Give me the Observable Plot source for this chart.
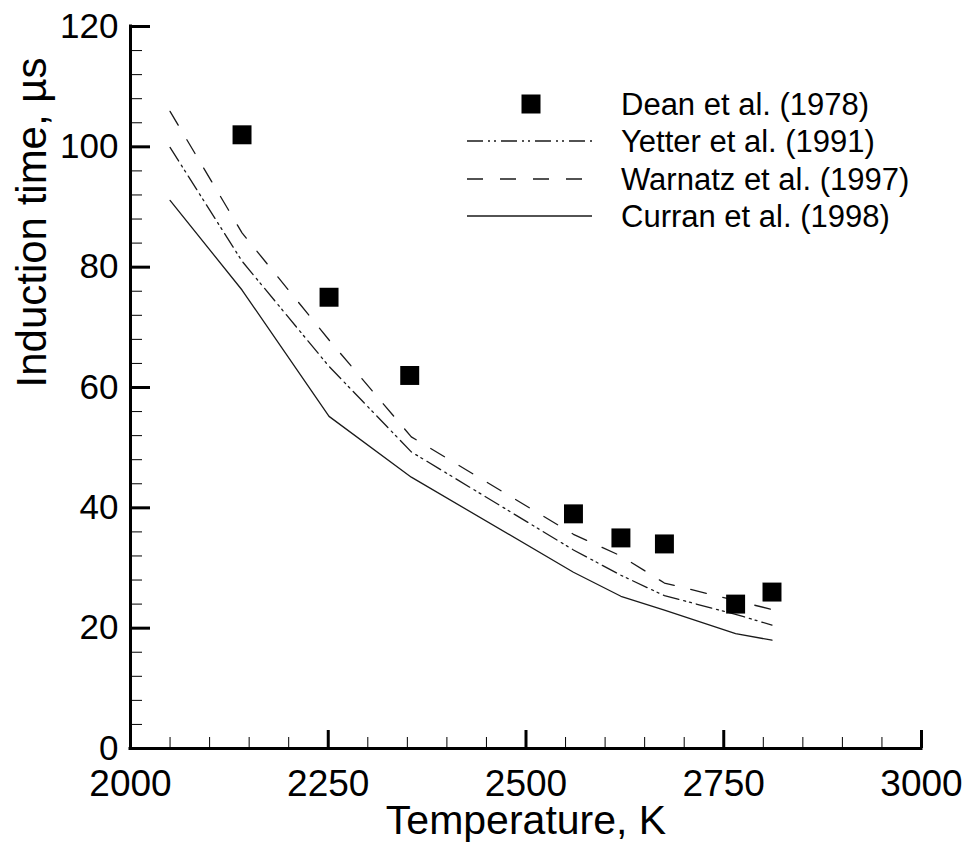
<!DOCTYPE html>
<html><head><meta charset="utf-8">
<script src="https://cdn.jsdelivr.net/npm/d3@7"></script>
<script src="https://cdn.jsdelivr.net/npm/@observablehq/plot@0.6"></script>
<style>html,body{margin:0;padding:0;background:#fff} svg{display:block}</style>
</head><body><div id="chart"></div>
<script>
// Experimental data (Dean et al. 1978)
const deanT   = [2141, 2251, 2353, 2560, 2620, 2675, 2765, 2811];
const deanTau = [102, 75, 62, 39, 35, 34, 24, 26];
// Model temperatures and predictions
const modelT  = [2050, 2141, 2251, 2355, 2560, 2620, 2675, 2765, 2811];
const yetter  = [99.9, 81.0, 63.5, 49.3, 33.0, 28.8, 25.4, 22.3, 20.5];
const warnatz = [105.9, 85.7, 67.9, 51.8, 35.6, 32.0, 27.5, 24.6, 23.1];
const curran  = [91.1, 76.2, 55.2, 45.1, 29.3, 25.3, 23.0, 19.1, 18.0];
// Ticks
const xMajor = [2000, 2250, 2500, 2750, 3000];
const yMajor = [0, 20, 40, 60, 80, 100, 120];
const xMinor = d3.range(2000, 3001, 50);
const yMinor = d3.range(0, 121, 4);
const seriesNames = ["Dean et al. (1978)", "Yetter et al. (1991)", "Warnatz et al. (1997)", "Curran et al. (1998)"];
const xTitle = "Temperature, K";
const yTitle = "Induction time, µs";

const FONT = "'Liberation Sans', Arial, Helvetica, sans-serif";
const LINE = "#1a1a1a";
const dashYetter = "16,5,2,4,2,5";
const dashWarnatz = "16,17";

const dean = deanT.map((t, i) => ({t, v: deanTau[i]}));
const mk = vals => modelT.map((t, i) => ({t, v: vals[i]}));
const blank = () => "";

const plot = Plot.plot({
  width: 969, height: 846,
  marginLeft: 130, marginRight: 48, marginTop: 26, marginBottom: 98,
  x: {domain: [2000, 3000]},
  y: {domain: [0, 120]},
  style: {fontFamily: FONT, background: "#fff", color: "#000", overflow: "visible"},
  marks: [
    Plot.axisX(xMinor, {tickSize: -11, strokeWidth: 1, tickFormat: blank, label: null}),
    Plot.axisX(xMajor, {tickSize: -18, strokeWidth: 3, tickFormat: blank, label: null}),
    Plot.axisX(xMajor, {tickSize: 0, tickPadding: 21, fontSize: 37, tickFormat: d => String(d), label: null}),
    Plot.axisY(yMinor, {tickSize: -12, strokeWidth: 1, tickFormat: blank, label: null}),
    Plot.axisY(yMajor, {tickSize: -20, strokeWidth: 3, tickFormat: blank, label: null}),
    Plot.axisY(yMajor, {tickSize: 0, tickPadding: 12, fontSize: 35, tickFormat: d => String(d), label: null}),
    Plot.ruleX([2000], {strokeWidth: 3, strokeLinecap: "square"}),
    Plot.ruleY([0], {strokeWidth: 3, strokeLinecap: "square"}),
    Plot.line(mk(curran), {x: "t", y: "v", stroke: LINE, strokeWidth: 1.3}),
    Plot.line(mk(warnatz), {x: "t", y: "v", stroke: LINE, strokeWidth: 1.3, strokeDasharray: dashWarnatz}),
    Plot.line(mk(yetter), {x: "t", y: "v", stroke: LINE, strokeWidth: 1.3, strokeDasharray: dashYetter}),
    Plot.dot(dean, {x: "t", y: "v", symbol: "square", r: 10.7, fill: "#000", stroke: "none"}),
    Plot.text([xTitle], {text: d => d, frameAnchor: "bottom", dy: 85, fontSize: 41}),
    Plot.text([yTitle], {text: d => d, frameAnchor: "left", dx: -98, rotate: -90, fontSize: 42})
  ]
});

// Legend inside the plot area
const svg = d3.select(plot);
const lg = svg.append("g").attr("font-family", FONT).attr("font-size", 31).attr("text-anchor", "start");
const rowsY = [104, 141, 179, 216];
const styles = [null, dashYetter, dashWarnatz, "none"];
seriesNames.forEach((name, i) => {
  const y = rowsY[i];
  if (i === 0) {
    lg.append("rect").attr("x", 531 - 9.5).attr("y", y - 9.5).attr("width", 19).attr("height", 19).attr("fill", "#000");
  } else {
    lg.append("line").attr("x1", 467).attr("x2", 592).attr("y1", y).attr("y2", y)
      .attr("stroke", LINE).attr("stroke-width", 1.3)
      .attr("stroke-dasharray", styles[i] === "none" ? null : styles[i]);
  }
  lg.append("text").attr("x", 621).attr("y", y).attr("dy", "0.36em").attr("fill", "#000").text(name);
});

document.getElementById("chart").appendChild(plot);
</script>
</body></html>
